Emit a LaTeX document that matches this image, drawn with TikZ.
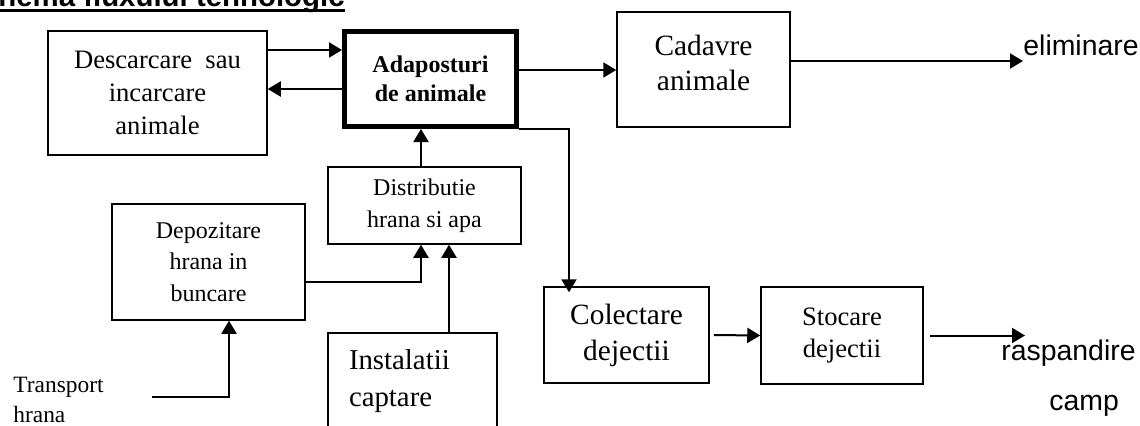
\documentclass[tikz,border=0pt]{standalone}
\usepackage{fontspec}
\setmainfont{Liberation Serif}
\setsansfont{Liberation Sans}
\usetikzlibrary{arrows.meta}
\begin{document}
\begin{tikzpicture}[x=0.5pt,y=-0.5pt]
	\tikzstyle{boite}=[draw,line width=0.75pt,align=center,inner sep=0pt]
	\tikzstyle{fleche}=[line width=1pt,-{Triangle[length=6.5pt,width=7.5pt]}]
	\tikzstyle{eticheta}=[inner sep=0pt,font=\sffamily\fontsize{14.2}{17}\selectfont]
	\useasboundingbox (0,0) rectangle (1140,425) ;
	% titlu
	\node[anchor=base west,inner sep=0pt,font=\sffamily\bfseries\fontsize{14.7}{17}\selectfont] (titlu) at (-38,6) {Schema fluxului tehnologic};
	\draw[line width=1.5pt] ([yshift=-2pt]titlu.base west) -- ([yshift=-2pt]titlu.base east) ;
	% cutii
	\node[boite,minimum width=109.5pt,minimum height=62pt,font=\fontsize{13.3}{16.5}\selectfont] (desc) at (157.5,93) {Descarcare\ \ sau\\incarcare\\animale};
	\node[boite,line width=2.5pt,minimum width=86pt,minimum height=47.5pt,font=\bfseries\fontsize{12}{14.5}\selectfont] (adap) at (430.5,79) {Adaposturi\\de animale};
	\node[boite,minimum width=86.5pt,minimum height=57.5pt,text depth=7pt,font=\fontsize{14.7}{17.5}\selectfont] (cad) at (703.5,69.5) {Cadavre\\animale};
	\node[boite,minimum width=96.5pt,minimum height=38.5pt,font=\fontsize{12}{16}\selectfont] (distr) at (424.5,205.5) {Distributie\\hrana si apa};
	\node[boite,minimum width=96.5pt,minimum height=58pt,font=\fontsize{12}{15.75}\selectfont] (depoz) at (208.5,262) {Depozitare\\hrana in\\buncare};
	\node[boite,align=left,text width=63.5pt,inner xsep=10.5pt,minimum height=48.5pt,font=\fontsize{14.4}{18.5}\selectfont] (inst) at (412.5,381.5) {Instalatii\\captare};
	\node[boite,minimum width=82.5pt,minimum height=48pt,font=\fontsize{14.7}{18}\selectfont] (colect) at (626.5,335) {Colectare\\dejectii};
	\node[boite,minimum width=81pt,minimum height=48.5pt,font=\fontsize{13.3}{16}\selectfont] (stoc) at (842,335.5) {Stocare\\dejectii};
	% etichete
	\node[eticheta,anchor=base west] (elim) at (1023,55) {eliminare};
	\node[eticheta,anchor=base west] (rasp) at (1001,360) {raspandire};
	\node[eticheta,anchor=base west] (camp) at (1049,410) {camp};
	\node[anchor=north west,align=left,inner sep=0pt,font=\fontsize{11.7}{15}\selectfont] (transp) at (13,377) {Transport\\hrana};
	\coordinate (transpA) at (152,397) ;
	\coordinate (raspA) at (1025,335.5) ;
	% sageti
	\draw[fleche] ([yshift=21.5pt]desc.east) -- ([yshift=21.5pt]desc.east -| adap.west) ;
	\draw[fleche] ([yshift=-5pt]adap.west) -- ([yshift=-5pt]adap.west -| desc.east) ;
	\draw[fleche] ([yshift=4.5pt]adap.east) -- ([yshift=4.5pt]adap.east -| cad.west) ;
	\draw[fleche] ([yshift=4.25pt]cad.east) -- ([yshift=4.25pt]cad.east -| elim.west) ;
	\draw[fleche] ([xshift=-1.75pt]distr.north) -- ([xshift=-1.75pt]distr.north |- adap.south) ;
	\draw[fleche] ([yshift=-10pt]depoz.east) -| ([xshift=-1.75pt]distr.south) ;
	\draw[fleche] ([xshift=18.25pt]inst.north) -- ([xshift=18.25pt]inst.north |- distr.south) ;
	\draw[fleche] (transpA) -| ([xshift=10.25pt]depoz.south) ;
	\draw[fleche,shorten >=-3pt] (adap.south east) -| ([xshift=-28.75pt]colect.north) ;
	\draw[fleche] ([xshift=2pt]colect.east) -- (stoc.west) ;
	\draw[fleche] ([xshift=3pt]stoc.east) -- (raspA) ;
\end{tikzpicture}
\end{document}
